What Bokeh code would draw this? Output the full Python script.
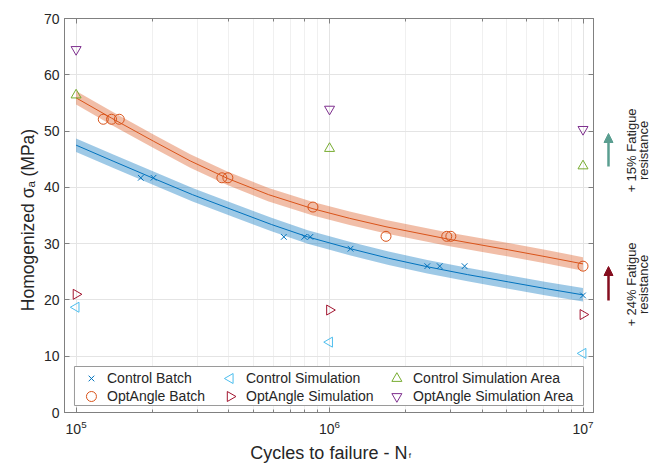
import math
from bokeh.plotting import figure
from bokeh.layouts import row, column
from bokeh.models import (Range1d, LogAxis, LinearAxis, FixedTicker, LogTicker, Label,
                          Arrow, NormalHead, Legend, LegendItem, BoxAnnotation)
from bokeh.embed import file_html
from bokeh.resources import INLINE

# ---------------- data ----------------
y_ticks = [0, 10, 20, 30, 40, 50, 60, 70]

control_batch_N = [1.8e5, 2.02e5, 6.6e5, 7.95e5, 8.4e5, 1.21e6, 2.43e6, 2.72e6, 3.41e6, 1.0e7]
control_batch_S = [41.7, 41.7, 31.2, 31.2, 31.2, 29.1, 26.0, 26.0, 26.0, 20.8]

opt_batch_N = [1.28e5, 1.38e5, 1.48e5, 3.76e5, 3.97e5, 8.6e5, 1.67e6, 2.9e6, 3.01e6, 1.0e7]
opt_batch_S = [52.1, 52.1, 52.1, 41.7, 41.7, 36.5, 31.3, 31.3, 31.3, 26.0]

sim_N = [1e5, 1e6, 1e7]
control_sim_S = [18.7, 12.5, 10.5]
opt_sim_S = [21.0, 18.2, 17.4]
control_area_S = [56.4, 46.9, 43.8]
opt_area_S = [64.5, 53.9, 50.3]

control_fit_N = [1e5, 1.41e5, 2.02e5, 2.88e5, 4.2e5, 5.9e5, 8.2e5, 1.21e6, 1.71e6, 2.43e6, 3.5e6, 5.08e6, 7.16e6, 1e7]
control_fit_S = [47.5, 44.6, 41.6, 38.7, 35.9, 33.4, 31.2, 29.1, 27.4, 25.9, 24.5, 23.2, 22.0, 20.9]
control_fit_lo = [46.3, 43.4, 40.4, 37.5, 34.7, 32.2, 30.0, 27.9, 26.2, 24.7, 23.3, 22.0, 20.8, 19.7]
control_fit_hi = [48.7, 45.8, 42.8, 39.9, 37.1, 34.6, 32.4, 30.3, 28.6, 27.1, 25.7, 24.4, 23.2, 22.1]

opt_fit_N = [1e5, 1.38e5, 2.02e5, 2.82e5, 3.95e5, 5.75e5, 8.6e5, 1.2e6, 1.67e6, 2.94e6, 5.08e6, 7.08e6, 1e7]
opt_fit_S = [55.9, 52.3, 48.2, 44.7, 41.6, 38.7, 36.2, 34.5, 33.0, 30.8, 28.9, 27.7, 26.4]
opt_fit_lo = [54.7, 51.1, 47.0, 43.5, 40.4, 37.5, 35.0, 33.3, 31.8, 29.6, 27.7, 26.5, 25.2]
opt_fit_hi = [57.1, 53.5, 49.4, 45.9, 42.8, 39.9, 37.4, 35.7, 34.2, 32.0, 30.1, 28.9, 27.6]

legend_labels = ["Control Batch", "OptAngle Batch", "Control Simulation",
                 "OptAngle Simulation", "Control Simulation Area", "OptAngle Simulation Area"]
side_notes = [("+ 15% Fatigue", "resistance"), ("+ 24% Fatigue", "resistance")]

# ---------------- styling / layout ----------------
BLUE = "#0072BD"
ORANGE = "#D95319"
CYAN = "#4DBEEE"
DRED = "#A2142F"
GREEN = "#77AC30"
PURPLE = "#7E2F8E"
TEAL = "#5A9E90"
MAROON = "#850E1F"
TXT = "#262626"
AX = "#808080"
FONT = "Liberation Sans"

W, H = 651, 464
LEFT_W = 40          # strip holding the y title
RIGHT_X = 600        # page x where the right strip starts
MAIN_W = RIGHT_X - LEFT_W
MAIN_H = 438
FL, FR, FT, FB = 63, 593, 18, 412   # frame edges in page pixels
XMIN, XMAX = 9e4, 1.1e7
YMIN, YMAX = 0, 70
LX0, LX1 = math.log10(XMIN), math.log10(XMAX)


def px2x(px):
    return 10 ** (LX0 + (px - FL) / (FR - FL) * (LX1 - LX0))


def py2y(py):
    return YMIN + (FB - py) / (FB - FT) * (YMAX - YMIN)


def strip(width, height):
    f = figure(width=width, height=height, x_range=Range1d(0, width), y_range=Range1d(0, height),
               x_axis_location=None, y_axis_location=None, toolbar_location=None,
               output_backend="svg", min_border=0, min_border_left=0, min_border_right=0,
               min_border_top=0, min_border_bottom=0, outline_line_color=None,
               background_fill_color="white", border_fill_color="white")
    f.grid.visible = False
    return f


p = figure(width=MAIN_W, height=MAIN_H, x_axis_type="log",
           x_range=Range1d(XMIN, XMAX), y_range=Range1d(YMIN, YMAX),
           output_backend="svg", toolbar_location=None,
           min_border_left=FL - LEFT_W, min_border_right=RIGHT_X - FR,
           min_border_top=FT, min_border_bottom=MAIN_H - FB,
           background_fill_color="white", border_fill_color="white")
p.outline_line_color = AX
p.outline_line_width = 1

xa = p.xaxis[0]
ya = p.yaxis[0]
ya.ticker = FixedTicker(ticks=y_ticks)
for ax in (xa, ya):
    ax.axis_line_color = AX
    ax.major_tick_line_color = AX
    ax.minor_tick_line_color = AX
    ax.major_tick_in = 5
    ax.major_tick_out = 0
    ax.minor_tick_in = 3
    ax.minor_tick_out = 0
    ax.major_label_text_font = FONT
    ax.major_label_text_font_size = "14px"
    ax.major_label_text_color = TXT
ya.minor_tick_line_color = None
xa.major_label_standoff = 7
ya.major_label_standoff = 5

top = LogAxis(ticker=LogTicker(), major_label_text_font_size="1px", major_label_text_color=None,
              major_label_standoff=0,
              axis_line_color=AX, major_tick_line_color=AX, minor_tick_line_color=AX,
              major_tick_in=5, major_tick_out=0, minor_tick_in=3, minor_tick_out=0)
right = LinearAxis(ticker=FixedTicker(ticks=y_ticks), major_label_text_font_size="1px",
                   major_label_text_color=None,
                   major_label_standoff=0, axis_line_color=AX, major_tick_line_color=AX,
                   minor_tick_line_color=None, major_tick_in=5, major_tick_out=0)
p.add_layout(top, "above")
p.add_layout(right, "right")

p.xgrid.grid_line_color = "#e4e4e4"
p.xgrid.minor_grid_line_color = "#f0f0f0"
p.ygrid.grid_line_color = "#e4e4e4"

# fits
p.varea(x=control_fit_N, y1=control_fit_lo, y2=control_fit_hi, fill_color=BLUE, fill_alpha=0.38)
p.line(control_fit_N, control_fit_S, line_color=BLUE, line_width=1)
p.varea(x=opt_fit_N, y1=opt_fit_lo, y2=opt_fit_hi, fill_color=ORANGE, fill_alpha=0.38)
p.line(opt_fit_N, opt_fit_S, line_color=ORANGE, line_width=1)

# series markers
styles = [
    dict(marker="x", size=8, line_color=BLUE, angle=0.0),
    dict(marker="circle", size=10, line_color=ORANGE, angle=0.0),
    dict(marker="triangle", size=10, line_color=CYAN, angle=math.pi / 2),
    dict(marker="triangle", size=10, line_color=DRED, angle=-math.pi / 2),
    dict(marker="triangle", size=10, line_color=GREEN, angle=0.0),
    dict(marker="inverted_triangle", size=10, line_color=PURPLE, angle=0.0),
]
series = [(control_batch_N, control_batch_S), (opt_batch_N, opt_batch_S),
          (sim_N, control_sim_S), (sim_N, opt_sim_S),
          (sim_N, control_area_S), (sim_N, opt_area_S)]
for (xs, ys), st in zip(series, styles):
    p.scatter(xs, ys, fill_color=None, line_width=1, **st)

# legend: box, text entries, and swatches drawn on top (legend ignores marker angle)
box = BoxAnnotation(left=px2x(73), right=px2x(583), top=py2y(366), bottom=py2y(405),
                    fill_color="white", fill_alpha=1.0, line_color="#9a9a9a", line_width=1,
                    line_alpha=1.0)
p.add_layout(box)

col_left = [78, 217, 384]     # page x of each legend column's left edge
row_mid = [378, 396]          # page y of the legend rows
for c in range(3):
    items = []
    for k in range(2):
        st = styles[2 * c + k]
        dummy = p.scatter(x=[], y=[], marker=st["marker"], line_alpha=0, fill_alpha=0)
        items.append(LegendItem(label=legend_labels[2 * c + k], renderers=[dummy]))
        p.scatter(x=[px2x(col_left[c] + 12)], y=[py2y(row_mid[k])], fill_color=None,
                  line_width=1, level="overlay", **st)
    leg = Legend(items=items, location=(col_left[c] - FL, FB - 405), orientation="vertical",
                 border_line_color=None, background_fill_alpha=0.0, padding=0, margin=0,
                 spacing=0, glyph_width=24, glyph_height=18, label_standoff=4, label_height=18,
                 label_text_font=FONT, label_text_font_size="14px", label_text_color=TXT)
    p.add_layout(leg)

common = dict(text_font=FONT, text_color=TXT)

# left strip: y title (rotated, reads bottom to top)
left = strip(LEFT_W, H)
left.add_layout(Label(x=27, y=H - 187, text="Homogenized σ", angle=math.pi / 2,
                      text_align="right", text_baseline="alphabetic", text_font_size="17.5px", **common))
left.add_layout(Label(x=30.5, y=H - 187, text="a", angle=math.pi / 2,
                      text_align="left", text_baseline="alphabetic", text_font_size="11.5px", **common))
left.add_layout(Label(x=27, y=H - 176, text="(MPa)", angle=math.pi / 2,
                      text_align="left", text_baseline="alphabetic", text_font_size="17.5px", **common))

# bottom strip: x title
BOT_H = H - MAIN_H
bottom = strip(MAIN_W, BOT_H)
bottom.add_layout(Label(x=403 - LEFT_W, y=H - 452, text="Cycles to failure - N",
                        text_align="right", text_baseline="alphabetic", text_font_size="18px", **common))
bottom.add_layout(Label(x=404.5 - LEFT_W, y=H - 455, text="f",
                        text_align="left", text_baseline="alphabetic", text_font_size="8px", **common))

# right strip: arrows and notes
RIGHT_W = W - RIGHT_X
rs = strip(RIGHT_W, H)
arrow_specs = [(TEAL, 166, 133, 150), (MAROON, 300, 266, 284)]
for (col, y0, y1, ymid), (l1, l2) in zip(arrow_specs, side_notes):
    rs.add_layout(Arrow(end=NormalHead(size=9, fill_color=col, line_color=col),
                        x_start=608 - RIGHT_X, y_start=H - y0, x_end=608 - RIGHT_X, y_end=H - y1,
                        line_color=col, line_width=2.5))
    rs.add_layout(Label(x=631 - RIGHT_X, y=H - ymid, text=l1, angle=math.pi / 2,
                        text_align="center", text_baseline="middle", text_font_size="13px", **common))
    rs.add_layout(Label(x=643 - RIGHT_X, y=H - ymid, text=l2, angle=math.pi / 2,
                        text_align="center", text_baseline="middle", text_font_size="13px", **common))

layout = row(left, column(p, bottom, spacing=0), rs, spacing=0)
open("out.html", "w").write(file_html(layout, INLINE))
